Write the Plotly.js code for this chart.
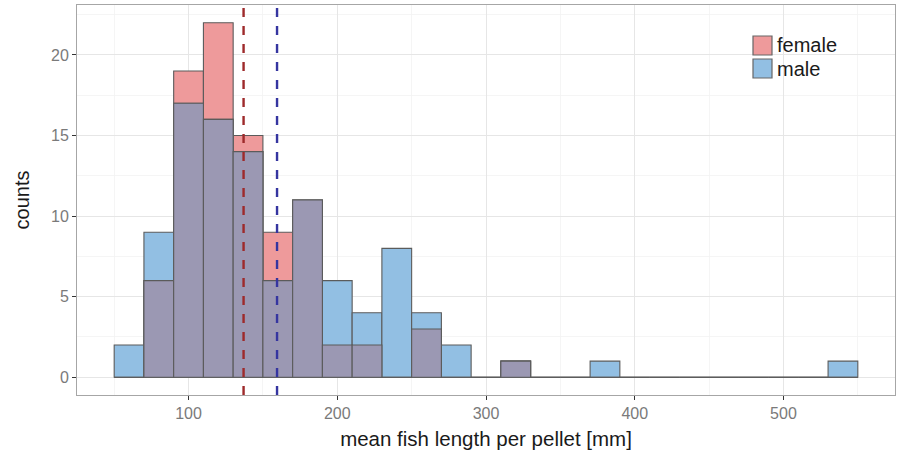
<!DOCTYPE html>
<html>
<head>
<meta charset="utf-8">
<script src="https://cdn.plot.ly/plotly-3.0.1.min.js"></script>
<style>html,body{margin:0;padding:0;background:#fff;}#chart{width:898px;height:455px;}</style>
</head>
<body>
<div id="chart"></div>
<script>
// Histogram bins (left edges, width 20 mm)
var binLeft = [50, 70, 90, 110, 130, 150, 170, 190, 210, 230, 250, 270, 290, 310, 330, 350, 370, 390, 410, 430, 450, 470, 490, 510, 530];
var binWidth = 20;
var femaleCounts = [0, 6, 19, 22, 15, 9, 11, 2, 2, 0, 3, 0, 0, 1, 0, 0, 0, 0, 0, 0, 0, 0, 0, 0, 0];
var maleCounts   = [2, 9, 17, 16, 14, 6, 11, 6, 4, 8, 4, 2, 0, 1, 0, 0, 1, 0, 0, 0, 0, 0, 0, 0, 1];
var seriesNames = ["female", "male"];
var meanLengths = [137, 159.5];
var xTicks = [100, 200, 300, 400, 500];
var yTicks = [0, 5, 10, 15, 20];

var fillColors = ["#EE9A9B", "#92BFE3"];
var overlapColor = "#9B98B3";
var edgeColor = "#5b5b5b";

var centers = binLeft.map(function (b) { return b + binWidth / 2; });
var overlap = femaleCounts.map(function (f, i) { return Math.min(f, maleCounts[i]); });

var edge = {color: edgeColor, width: 1.1};
var traces = [
  {type: "bar", name: seriesNames[0], x: centers, y: femaleCounts, width: binWidth,
   marker: {color: fillColors[0], line: edge}, hoverinfo: "x+y", showlegend: false},
  {type: "bar", name: seriesNames[1], x: centers, y: maleCounts, width: binWidth,
   marker: {color: fillColors[1], line: edge}, hoverinfo: "x+y", showlegend: false},
  {type: "bar", name: "both", x: centers, y: overlap, width: binWidth, showlegend: false,
   marker: {color: overlapColor, line: edge}, hoverinfo: "x+y"}
];

var meanColors = ["#9E2A2B", "#3535A0"];
var shapes = meanLengths.map(function (m, i) {
  return {type: "line", xref: "x", yref: "paper", x0: m, x1: m, y0: 0, y1: 1,
          line: {color: meanColors[i], width: 2.4, dash: "9px,9px"}, layer: "above"};
});

// Legend (drawn inside the panel, top right), pixel-based positions
var W = 898, H = 455, mL = 77, mR = 3, mT = 5, mB = 60;
var pw = W - mL - mR, ph = H - mT - mB;
function px(x) { return (x - mL) / pw; }
function py(y) { return 1 - (y - mT) / ph; }
var annotations = [];
seriesNames.forEach(function (name, i) {
  var top = 36 + i * 23;
  shapes.push({type: "rect", xref: "paper", yref: "paper",
    x0: px(753), x1: px(772), y0: py(top), y1: py(top + 19),
    fillcolor: fillColors[i], line: {color: "#666666", width: 1.2}, layer: "above"});
  annotations.push({xref: "paper", yref: "paper", x: px(775), y: py(top + 9.5),
    xanchor: "left", yanchor: "middle", text: name, showarrow: false,
    font: {size: 20, color: "#1a1a1a"}});
});

var layout = {
  width: W, height: H,
  margin: {l: mL, r: mR, t: mT, b: mB},
  paper_bgcolor: "#ffffff", plot_bgcolor: "#ffffff",
  barmode: "overlay", bargap: 0,
  font: {family: "Liberation Sans, Arial, sans-serif"},
  xaxis: {
    range: [25, 575], tickvals: xTicks, ticks: "outside", ticklen: 4,
    tickcolor: "#333333", tickwidth: 1,
    tickfont: {size: 16, color: "#7a7a7a"},
    showgrid: true, gridcolor: "#E6E6E6", gridwidth: 1,
    minor: {tickvals: [50, 150, 250, 350, 450, 550], showgrid: true, gridcolor: "#F2F2F2", gridwidth: 0.8, ticks: ""},
    zeroline: false, showline: true, mirror: true, linecolor: "#A6A6A6", linewidth: 1,
    title: {text: "mean fish length per pellet [mm]", font: {size: 20.5, color: "#1a1a1a"}, standoff: 10}
  },
  yaxis: {
    range: [-1.1, 23.1], tickvals: yTicks, ticks: "outside", ticklen: 4,
    tickcolor: "#333333", tickwidth: 1,
    tickfont: {size: 16, color: "#7a7a7a"},
    showgrid: true, gridcolor: "#E6E6E6", gridwidth: 1,
    minor: {tickvals: [2.5, 7.5, 12.5, 17.5, 22.5], showgrid: true, gridcolor: "#F2F2F2", gridwidth: 0.8, ticks: ""},
    zeroline: false, showline: true, mirror: true, linecolor: "#A6A6A6", linewidth: 1,
    title: {text: "counts", font: {size: 20, color: "#1a1a1a"}, standoff: 16}
  },
  shapes: shapes,
  annotations: annotations,
  showlegend: false
};

Plotly.newPlot("chart", traces, layout, {displayModeBar: false, staticPlot: true});
</script>
</body>
</html>
